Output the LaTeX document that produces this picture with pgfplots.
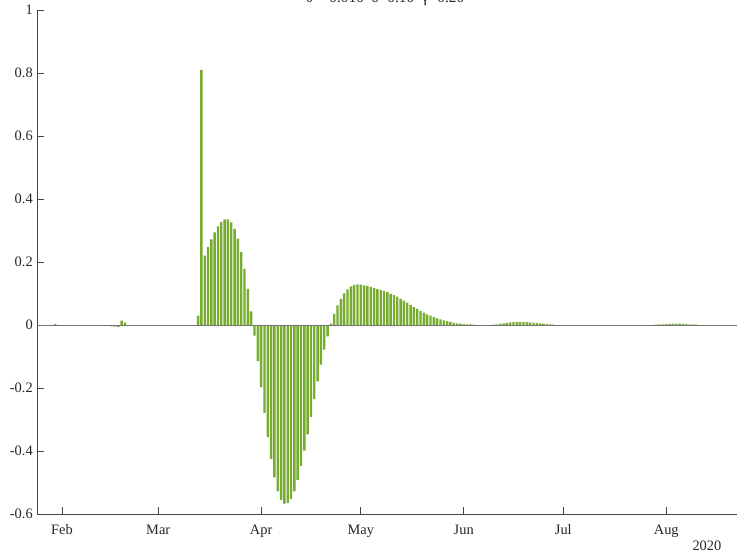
\documentclass[border=0pt]{standalone}
\usepackage{fontspec}
\setmainfont{Liberation Serif}
\usepackage{pgfplots}
\usepackage{pgfplotstable}
\pgfplotsset{compat=1.18}

\definecolor{barGreen}{RGB}{119,172,48}
\definecolor{axGray}{RGB}{70,70,70}

% daily change; day 0 = 1 Feb 2020
\pgfplotstableread{
day val
-2 0.003
10 -0.001
11 -0.001
12 -0.002
13 -0.003
14 -0.003
15 -0.004
16 -0.005
17 -0.007
18 0.014
19 0.008
41 0.030
42 0.810
43 0.220
44 0.247
45 0.272
46 0.294
47 0.313
48 0.327
49 0.335
50 0.335
51 0.326
52 0.305
53 0.274
54 0.232
55 0.179
56 0.115
57 0.043
58 -0.034
59 -0.115
60 -0.197
61 -0.279
62 -0.356
63 -0.425
64 -0.484
65 -0.528
66 -0.555
67 -0.567
68 -0.565
69 -0.553
70 -0.528
71 -0.492
72 -0.447
73 -0.399
74 -0.347
75 -0.292
76 -0.235
77 -0.179
78 -0.126
79 -0.078
80 -0.036
81 0.004
82 0.035
83 0.062
84 0.083
85 0.100
86 0.113
87 0.123
88 0.127
89 0.129
90 0.128
91 0.126
92 0.124
93 0.121
94 0.117
95 0.114
96 0.111
97 0.108
98 0.104
99 0.099
100 0.095
101 0.090
102 0.083
103 0.077
104 0.071
105 0.064
106 0.057
107 0.051
108 0.044
109 0.039
110 0.034
111 0.030
112 0.025
113 0.021
114 0.018
115 0.015
116 0.012
117 0.010
118 0.007
119 0.005
120 0.004
121 0.003
122 0.002
123 0.002
124 0.001
130 0.001
131 0.002
132 0.004
133 0.005
134 0.007
135 0.008
136 0.009
137 0.0095
138 0.0095
139 0.009
140 0.009
141 0.008
142 0.007
143 0.006
144 0.005
145 0.004
146 0.003
147 0.002
148 0.001
151 -0.001
152 -0.001
153 -0.002
154 -0.002
155 -0.003
156 -0.003
157 -0.003
158 -0.003
159 -0.003
160 -0.003
161 -0.002
162 -0.002
163 -0.002
164 -0.002
165 -0.001
166 -0.001
167 -0.001
179 0.001
180 0.002
181 0.002
182 0.003
183 0.003
184 0.004
185 0.004
186 0.004
187 0.003
188 0.003
189 0.002
190 0.002
191 0.001
}\dailychange

\begin{document}
\begin{tikzpicture}
\begin{axis}[
  scale only axis,
  width=525pt, height=378pt,
  xmin=-7.5, xmax=203.3,
  ymin=-0.6, ymax=1,
  axis lines*=left,
  axis line style={axGray, line width=0.6pt},
  tick style={axGray, line width=0.6pt},
  tick align=inside,
  major tick length=5.25pt,
  xtick={0,29,60,90,121,151,182},
  xticklabels={Feb,Mar,Apr,May,Jun,Jul,Aug},
  ytick={-0.6,-0.4,-0.2,0,0.2,0.4,0.6,0.8,1},
  yticklabels={-0.6,-0.4,-0.2,0,0.2,0.4,0.6,0.8,1},
  tick label style={font=\fontsize{10.8}{13}\selectfont, black!85},
  yticklabel style={inner sep=3pt},
  xticklabel style={anchor=base, yshift=-15pt},
]
\addplot[ybar, bar width=0.72, bar shift=0pt, fill=barGreen, draw=none]
  table[x=day, y=val]{\dailychange};
\draw[black!55, line width=0.75pt] (axis cs:-7.5,0) -- (axis cs:203.3,0);
\coordinate (sw) at (rel axis cs:0,0);
\coordinate (se) at (rel axis cs:1,0);
\coordinate (ne) at (rel axis cs:1,1);
\coordinate (tc) at (rel axis cs:0.5,1);
\end{axis}
\node[anchor=base, font=\fontsize{11.5}{13}\selectfont, black!85]
  at ([yshift=5.25pt, xshift=-1.5pt]tc) {θ = 0.010\enspace δ=0.10\enspace γ=0.20};
\node[anchor=base east, font=\fontsize{10.8}{13}\selectfont, black!85]
  at ([xshift=-8.25pt, yshift=-27pt]se) {2020};
\pgfresetboundingbox
\useasboundingbox ([xshift=-27.75pt, yshift=-29.25pt]sw) rectangle ([yshift=7.5pt]ne);
\end{tikzpicture}
\end{document}
